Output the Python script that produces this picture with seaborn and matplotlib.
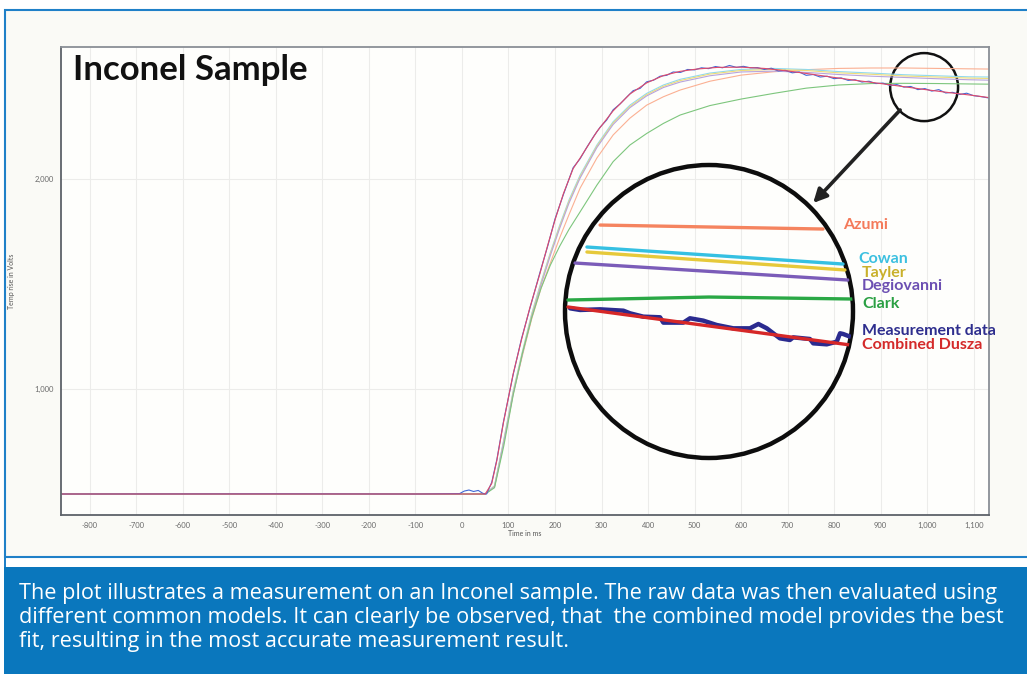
import numpy as np
import pandas as pd
import matplotlib.pyplot as plt
import seaborn as sns
from matplotlib.patches import Ellipse, Rectangle
from matplotlib.ticker import FuncFormatter

W, H = 1027, 674

# ---- main plot: temperature rise vs time ----
MEAS_T = [-860, -400, -100, -5, 5, 15, 25, 35, 45, 53, 64, 75, 89, 110, 128, 146, 168, 185, 200,
          218, 239, 254, 268, 283, 297, 311, 325, 340, 354, 368, 383, 397, 412, 426, 440, 454,
          470, 485, 500, 515, 530, 545, 560, 575, 590, 605, 620, 635, 650, 665, 680, 695, 710,
          725, 740, 755, 770, 785, 800, 815, 830, 845, 860, 875, 890, 905, 920, 935, 950, 965,
          980, 995, 1010, 1025, 1040, 1055, 1070, 1085, 1100, 1115, 1133]
MEAS_V = [500, 501, 500, 502, 514, 519, 512, 517, 503, 500, 556, 664, 842, 1068, 1240, 1384, 1558,
          1686, 1810, 1926, 2054, 2097, 2150, 2203, 2247, 2281, 2330, 2358, 2390, 2421, 2432, 2463,
          2471, 2490, 2494, 2510, 2508, 2522, 2520, 2530, 2526, 2536, 2530, 2541, 2532, 2537, 2530,
          2531, 2522, 2528, 2515, 2518, 2506, 2510, 2494, 2498, 2486, 2490, 2478, 2482, 2470, 2473,
          2462, 2466, 2455, 2457, 2446, 2450, 2438, 2441, 2426, 2431, 2419, 2426, 2410, 2413, 2403,
          2409, 2397, 2393, 2386]

DUSZA_T = [-860, 50, 64, 75, 89, 110, 128, 146, 168, 185, 200, 218, 239, 254, 290, 325, 361, 397,
           433, 469, 505, 550, 600, 650, 700, 750, 800, 850, 900, 950, 1000, 1050, 1100, 1133]
DUSZA_V = [500, 500, 550, 660, 838, 1072, 1235, 1388, 1553, 1690, 1805, 1930, 2050, 2100, 2226,
           2325, 2405, 2458, 2493, 2513, 2524, 2532, 2533, 2527, 2515, 2500, 2484, 2469, 2455,
           2440, 2425, 2411, 2398, 2388]

MODEL_T = [-860, 50, 70, 90, 110, 130, 150, 170, 190, 210, 230, 254, 290, 325, 361, 397, 433, 469,
           533, 600, 670, 740, 810, 880, 950, 1020, 1090, 1133]
COWAN_V = [500, 500, 540, 760, 990, 1180, 1360, 1510, 1650, 1780, 1900, 2019, 2162, 2273, 2352,
           2408, 2448, 2475, 2505, 2522, 2527, 2522, 2512, 2505, 2497, 2492, 2487, 2486]
TAYLER_V = [500, 500, 538, 755, 985, 1175, 1354, 1504, 1644, 1773, 1893, 2012, 2156, 2267, 2346,
            2402, 2442, 2469, 2500, 2517, 2522, 2517, 2506, 2499, 2491, 2486, 2481, 2479]
DEGIO_V = [500, 500, 536, 750, 978, 1168, 1346, 1496, 1636, 1765, 1885, 2005, 2150, 2260, 2340,
           2396, 2436, 2462, 2492, 2510, 2514, 2508, 2498, 2490, 2484, 2478, 2473, 2471]
AZUMI_V = [500, 500, 535, 745, 975, 1160, 1335, 1480, 1600, 1720, 1830, 1957, 2100, 2210, 2290,
           2352, 2392, 2424, 2466, 2495, 2511, 2521, 2527, 2529, 2529, 2527, 2525, 2524]
CLARK_V = [500, 500, 530, 730, 970, 1170, 1340, 1480, 1590, 1680, 1760, 1844, 1971, 2083, 2162,
           2217, 2265, 2305, 2350, 2381, 2408, 2433, 2448, 2455, 2456, 2455, 2453, 2452]

# ---- magnified view inside the big circle ----
Z_MEAS_T = [922.6, 927.7, 937.9, 949.8, 953.2, 960.0, 968.5, 970.2, 980.4, 983.8, 990.6, 997.4,
            1005.9, 1014.4, 1018.7, 1023.0, 1029.7, 1034.8, 1036.5, 1045.0, 1046.7, 1053.6,
            1058.7, 1060.4, 1062.0, 1065.5]
Z_MEAS_V = [2441.5, 2439.7, 2440.4, 2438.9, 2436.0, 2432.3, 2431.6, 2425.7, 2425.7, 2430.5,
            2427.9, 2423.1, 2419.4, 2419.4, 2424.2, 2419.4, 2408.3, 2406.5, 2409.4, 2407.6,
            2402.8, 2401.7, 2404.6, 2413.9, 2413.1, 2410.2]
Z_DUSZA_T = [921.5, 1065.5]
Z_DUSZA_V = [2443.0, 2401.0]
Z_AZUMI_T = [937.9, 1051.7]
Z_AZUMI_V = [2533.6, 2529.2]
Z_COWAN_T = [931.2, 1061.9]
Z_COWAN_V = [2509.3, 2490.5]
Z_TAYLER_T = [931.2, 1062.9]
Z_TAYLER_V = [2503.8, 2483.9]
Z_DEGIO_T = [925.1, 1064.4]
Z_DEGIO_V = [2491.6, 2472.8]
Z_CLARK_T = [921.5, 993.5, 1067.0]
Z_CLARK_V = [2450.7, 2454.0, 2451.8]

NAMES = ['Azumi', 'Cowan', 'Tayler', 'Degiovanni', 'Clark', 'Measurement data', 'Combined Dusza']
THIN_COLORS = {'Azumi': '#fbb093', 'Cowan': '#8fd9ee', 'Tayler': '#eedc7a', 'Degiovanni': '#b7a4dc',
               'Clark': '#7dc67d', 'Measurement data': '#4169d6', 'Combined Dusza': '#e04a6a'}
BOLD_COLORS = {'Azumi': '#f5845f', 'Cowan': '#35c0e2', 'Tayler': '#e6c93a', 'Degiovanni': '#7b5cb8',
               'Clark': '#2aa845', 'Measurement data': '#2b2b8f', 'Combined Dusza': '#d62828'}
LABEL_COLORS = {'Azumi': '#f47a5a', 'Cowan': '#3cc0e0', 'Tayler': '#c9b02a', 'Degiovanni': '#6c4fb2',
                'Clark': '#2aa043', 'Measurement data': '#2e2e8e', 'Combined Dusza': '#d42a2a'}

CAPTION = ["The plot illustrates a measurement on an Inconel sample. The raw data was then evaluated using",
           "different common models. It can clearly be observed, that  the combined model provides the best",
           "fit, resulting in the most accurate measurement result."]


def long_df(parts):
    return pd.concat([pd.DataFrame({'time': t, 'volts': v, 'model': n}) for n, t, v in parts],
                     ignore_index=True)


def px(x, y):
    # pixel position (top-left origin) -> figure fraction
    return x / W, 1 - y / H


main_df = long_df([('Azumi', MODEL_T, AZUMI_V), ('Cowan', MODEL_T, COWAN_V),
                   ('Tayler', MODEL_T, TAYLER_V), ('Degiovanni', MODEL_T, DEGIO_V),
                   ('Clark', MODEL_T, CLARK_V), ('Measurement data', MEAS_T, MEAS_V),
                   ('Combined Dusza', DUSZA_T, DUSZA_V)])
zoom_df = long_df([('Azumi', Z_AZUMI_T, Z_AZUMI_V), ('Cowan', Z_COWAN_T, Z_COWAN_V),
                   ('Tayler', Z_TAYLER_T, Z_TAYLER_V), ('Degiovanni', Z_DEGIO_T, Z_DEGIO_V),
                   ('Clark', Z_CLARK_T, Z_CLARK_V), ('Measurement data', Z_MEAS_T, Z_MEAS_V),
                   ('Combined Dusza', Z_DUSZA_T, Z_DUSZA_V)])

sns.set_style('white')
plt.rcParams['font.family'] = ['Lato', 'DejaVu Sans']

fig = plt.figure(figsize=(W / 100, H / 100), dpi=100, facecolor='white')

# page frame and caption box
x0, y0 = px(5, 557)
fig.add_artist(Rectangle((x0, y0), 1.02 - x0, px(0, 10)[1] - y0, transform=fig.transFigure,
                         facecolor='#fafaf6', edgecolor='#1f80c8', lw=1.5, zorder=-5))
fig.add_artist(Rectangle(px(4, 674), 1.0, 107 / H, transform=fig.transFigure,
                         facecolor='#0a77bd', edgecolor='none', zorder=-5))
fig.add_artist(Rectangle(px(4, 567), 1.5 / W, 10 / H, transform=fig.transFigure,
                         facecolor='#1f80c8', edgecolor='none', zorder=-5))

# main axes
l, b = px(61, 515)
ax = fig.add_axes([l, b, (989 - 61) / W, (515 - 47) / H])
ax.set_facecolor('#fefefc')
sns.lineplot(data=main_df, x='time', y='volts', hue='model', hue_order=NAMES, palette=THIN_COLORS,
             estimator=None, sort=False, lw=0.8, legend=False, ax=ax)
ax.set_xlim(-862, 1133)
ax.set_ylim(400, 2629)
ax.set_xticks(np.arange(-800, 1101, 100))
ax.set_yticks([1000, 2000])
ax.xaxis.set_major_formatter(FuncFormatter(lambda v, p: f'{int(v):,}'))
ax.yaxis.set_major_formatter(FuncFormatter(lambda v, p: f'{int(v):,}'))
ax.tick_params(length=0, labelsize=5.5, labelcolor='#6a6a6a', pad=5)
ax.grid(True, color='#ececea', lw=0.8)
for s in ax.spines.values():
    s.set_color('#8a8f96')
    s.set_linewidth(1.3)
ax.spines['left'].set_color('#5d6269')
ax.spines['bottom'].set_color('#5d6269')
ax.set_xlabel('Time in ms', fontsize=5, color='#555555', labelpad=1)
ax.set_ylabel('Temp rise in Volts', fontsize=5, color='#555555', labelpad=14)

fig.text(*px(73, 70), 'Inconel Sample', fontsize=25, fontweight='bold', color='#111111',
         va='center', ha='left')

# small circle on the region that is magnified, and the arrow to the big circle
ax.add_patch(Ellipse((993.5, 2438), 146, 324, fill=False, ec='#111111', lw=1.8, clip_on=False))
ax.annotate('', xy=(755, 1886), xytext=(942, 2329),
            arrowprops=dict(arrowstyle='-|>', lw=2.6, color='#222222', mutation_scale=20,
                            shrinkA=0, shrinkB=0))

# magnified inset clipped to the big circle
il, ib = px(565, 458)
ax_in = fig.add_axes([il, ib, 288 / W, 293 / H])
ax_in.patch.set_visible(False)
sns.lineplot(data=zoom_df, x='time', y='volts', hue='model', hue_order=NAMES, palette=BOLD_COLORS,
             estimator=None, sort=False, lw=2.4, legend=False, ax=ax_in)
ax_in.set_xlim(920, 1067)
ax_in.set_ylim(2276, 2600)
ax_in.axis('off')
clip = Ellipse((0.5, 0.5), 1, 1, transform=ax_in.transAxes, facecolor='none', edgecolor='none')
ax_in.add_patch(clip)
for line in ax_in.lines:
    line.set_clip_path(clip)
ax_in.lines[5].set_linewidth(3.2)
ax_in.add_patch(Ellipse((0.5, 0.5), 1, 1, transform=ax_in.transAxes, fill=False,
                        ec='#0d0d0d', lw=3.2, clip_on=False))

LABEL_POS = {'Azumi': (1061.9, 2533.6), 'Cowan': (1069.6, 2496), 'Tayler': (1071.6, 2480.6),
             'Degiovanni': (1071.6, 2466), 'Clark': (1071.6, 2446),
             'Measurement data': (1071.6, 2416), 'Combined Dusza': (1071.6, 2401)}
for name in NAMES:
    tx, ty = LABEL_POS[name]
    ax_in.text(tx, ty, name, color=LABEL_COLORS[name], fontsize=11.5, fontweight='bold',
               va='center', ha='left', clip_on=False)

# caption
for i, line in enumerate(CAPTION):
    fig.text(*px(19, 593 + i * 24.5), line, color='white', fontsize=15.6, va='center', ha='left',
             family=['Open Sans', 'DejaVu Sans'])

fig.savefig('out.png', dpi=100, facecolor=fig.get_facecolor())
